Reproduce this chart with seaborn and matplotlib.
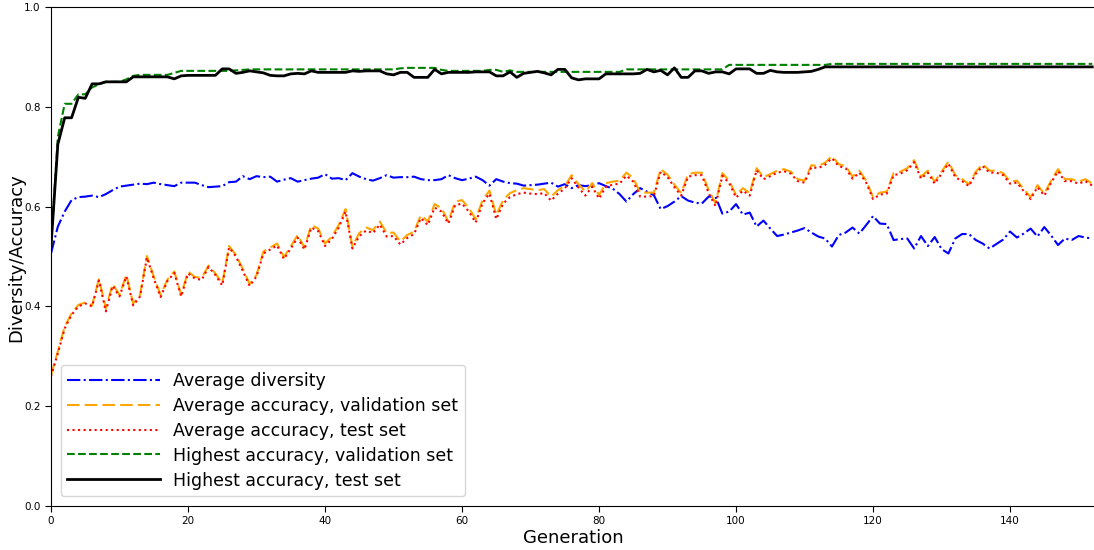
import numpy as np
import pandas as pd
import matplotlib
matplotlib.use("Agg")
import matplotlib.pyplot as plt
import seaborn as sns

# Per-generation statistics of the evolutionary run (generation 0..152)
avg_diversity = [
    0.506, 0.560, 0.590, 0.613, 0.619, 0.620, 0.622, 0.619, 0.625, 0.633,
    0.640, 0.642, 0.644, 0.646, 0.645, 0.648, 0.645, 0.643, 0.641, 0.648,
    0.648, 0.648, 0.643, 0.639, 0.640, 0.641, 0.649, 0.650, 0.661, 0.655,
    0.661, 0.659, 0.660, 0.650, 0.654, 0.657, 0.650, 0.653, 0.656, 0.658,
    0.665, 0.656, 0.657, 0.653, 0.667, 0.660, 0.655, 0.652, 0.657, 0.663,
    0.658, 0.659, 0.659, 0.660, 0.655, 0.653, 0.653, 0.655, 0.663, 0.657,
    0.653, 0.656, 0.660, 0.653, 0.642, 0.655, 0.650, 0.647, 0.646, 0.642,
    0.643, 0.644, 0.646, 0.648, 0.640, 0.645, 0.637, 0.643, 0.641, 0.643,
    0.647, 0.641, 0.636, 0.625, 0.610, 0.625, 0.637, 0.630, 0.623, 0.595,
    0.601, 0.610, 0.621, 0.612, 0.608, 0.606, 0.620, 0.620, 0.586, 0.590,
    0.605, 0.584, 0.588, 0.560, 0.572, 0.556, 0.541, 0.544, 0.548, 0.552,
    0.557, 0.548, 0.540, 0.536, 0.520, 0.543, 0.548, 0.558, 0.546, 0.563,
    0.581, 0.566, 0.565, 0.533, 0.535, 0.536, 0.516, 0.541, 0.521, 0.539,
    0.515, 0.506, 0.536, 0.545, 0.545, 0.533, 0.526, 0.516, 0.525, 0.534,
    0.550, 0.538, 0.546, 0.556, 0.540, 0.559, 0.542, 0.523, 0.536, 0.533,
    0.541, 0.538, 0.536,
]

avg_acc_val = [
    0.262, 0.310, 0.360, 0.386, 0.403, 0.408, 0.402, 0.456, 0.396, 0.445,
    0.423, 0.463, 0.406, 0.423, 0.501, 0.460, 0.423, 0.454, 0.470, 0.423,
    0.470, 0.459, 0.457, 0.482, 0.466, 0.446, 0.521, 0.503, 0.475, 0.445,
    0.463, 0.510, 0.518, 0.526, 0.499, 0.520, 0.543, 0.518, 0.563, 0.556,
    0.526, 0.540, 0.563, 0.595, 0.520, 0.547, 0.558, 0.553, 0.570, 0.547,
    0.548, 0.530, 0.543, 0.550, 0.583, 0.570, 0.605, 0.597, 0.570, 0.610,
    0.613, 0.597, 0.575, 0.613, 0.632, 0.583, 0.613, 0.627, 0.633, 0.637,
    0.635, 0.633, 0.635, 0.620, 0.633, 0.641, 0.663, 0.645, 0.630, 0.647,
    0.623, 0.647, 0.650, 0.652, 0.668, 0.657, 0.628, 0.628, 0.628, 0.675,
    0.664, 0.644, 0.627, 0.665, 0.668, 0.668, 0.633, 0.607, 0.667, 0.652,
    0.623, 0.637, 0.627, 0.677, 0.659, 0.665, 0.672, 0.675, 0.670, 0.655,
    0.652, 0.683, 0.681, 0.688, 0.701, 0.685, 0.681, 0.660, 0.672, 0.652,
    0.619, 0.628, 0.630, 0.667, 0.670, 0.677, 0.693, 0.660, 0.672, 0.650,
    0.670, 0.690, 0.663, 0.655, 0.645, 0.670, 0.685, 0.672, 0.672, 0.667,
    0.650, 0.652, 0.635, 0.619, 0.643, 0.626, 0.652, 0.675, 0.655, 0.655,
    0.650, 0.655, 0.646,
]

avg_acc_test = [
    0.260, 0.306, 0.356, 0.383, 0.400, 0.406, 0.400, 0.452, 0.390, 0.441,
    0.420, 0.460, 0.402, 0.420, 0.498, 0.456, 0.419, 0.451, 0.467, 0.420,
    0.466, 0.456, 0.453, 0.479, 0.463, 0.442, 0.518, 0.500, 0.471, 0.441,
    0.460, 0.506, 0.514, 0.522, 0.495, 0.516, 0.538, 0.514, 0.558, 0.551,
    0.521, 0.535, 0.558, 0.590, 0.516, 0.541, 0.552, 0.547, 0.564, 0.540,
    0.541, 0.524, 0.537, 0.545, 0.577, 0.563, 0.598, 0.590, 0.566, 0.603,
    0.606, 0.590, 0.568, 0.607, 0.626, 0.575, 0.606, 0.619, 0.625, 0.628,
    0.626, 0.625, 0.627, 0.612, 0.626, 0.636, 0.657, 0.638, 0.622, 0.640,
    0.616, 0.640, 0.644, 0.646, 0.662, 0.650, 0.620, 0.620, 0.621, 0.670,
    0.659, 0.639, 0.622, 0.660, 0.663, 0.663, 0.627, 0.601, 0.662, 0.647,
    0.618, 0.632, 0.622, 0.673, 0.655, 0.661, 0.668, 0.671, 0.666, 0.651,
    0.648, 0.679, 0.677, 0.684, 0.697, 0.681, 0.677, 0.656, 0.668, 0.648,
    0.615, 0.624, 0.626, 0.663, 0.666, 0.673, 0.689, 0.656, 0.668, 0.646,
    0.666, 0.686, 0.659, 0.651, 0.641, 0.666, 0.681, 0.668, 0.668, 0.663,
    0.646, 0.648, 0.631, 0.615, 0.639, 0.622, 0.648, 0.671, 0.651, 0.651,
    0.646, 0.651, 0.642,
]

best_acc_val = [
    0.520, 0.740, 0.806, 0.806, 0.825, 0.825, 0.839, 0.845, 0.850, 0.850,
    0.850, 0.855, 0.862, 0.864, 0.864, 0.864, 0.864, 0.864, 0.868, 0.872,
    0.872, 0.872, 0.872, 0.872, 0.872, 0.872, 0.872, 0.873, 0.874, 0.875,
    0.875, 0.875, 0.875, 0.875, 0.875, 0.875, 0.875, 0.875, 0.875, 0.875,
    0.875, 0.875, 0.875, 0.875, 0.875, 0.875, 0.875, 0.875, 0.875, 0.875,
    0.875, 0.877, 0.878, 0.878, 0.878, 0.878, 0.878, 0.874, 0.872, 0.872,
    0.872, 0.872, 0.872, 0.872, 0.874, 0.874, 0.870, 0.873, 0.870, 0.870,
    0.870, 0.870, 0.870, 0.870, 0.870, 0.870, 0.870, 0.870, 0.870, 0.870,
    0.870, 0.870, 0.870, 0.870, 0.875, 0.875, 0.875, 0.875, 0.875, 0.875,
    0.875, 0.875, 0.875, 0.875, 0.875, 0.875, 0.875, 0.875, 0.875, 0.884,
    0.884, 0.884, 0.884, 0.884, 0.884, 0.884, 0.884, 0.884, 0.884, 0.884,
    0.884, 0.884, 0.884, 0.884, 0.886, 0.886, 0.886, 0.886, 0.886, 0.886,
    0.886, 0.886, 0.886, 0.886, 0.886, 0.886, 0.886, 0.886, 0.886, 0.886,
    0.886, 0.886, 0.886, 0.886, 0.886, 0.886, 0.886, 0.886, 0.886, 0.886,
    0.886, 0.886, 0.886, 0.886, 0.886, 0.886, 0.886, 0.886, 0.886, 0.886,
    0.886, 0.886, 0.886,
]

best_acc_test = [
    0.520, 0.725, 0.778, 0.778, 0.819, 0.817, 0.846, 0.846, 0.850, 0.850,
    0.850, 0.850, 0.860, 0.860, 0.860, 0.860, 0.860, 0.860, 0.856, 0.862,
    0.863, 0.863, 0.863, 0.863, 0.863, 0.876, 0.876, 0.867, 0.869, 0.872,
    0.870, 0.868, 0.863, 0.862, 0.862, 0.866, 0.867, 0.866, 0.872, 0.869,
    0.869, 0.869, 0.869, 0.869, 0.872, 0.871, 0.872, 0.872, 0.872, 0.866,
    0.864, 0.869, 0.869, 0.859, 0.859, 0.859, 0.875, 0.866, 0.869, 0.869,
    0.869, 0.869, 0.870, 0.870, 0.870, 0.862, 0.862, 0.870, 0.859, 0.867,
    0.869, 0.871, 0.868, 0.864, 0.875, 0.875, 0.858, 0.854, 0.856, 0.856,
    0.856, 0.866, 0.866, 0.866, 0.866, 0.866, 0.867, 0.875, 0.870, 0.873,
    0.864, 0.878, 0.859, 0.859, 0.872, 0.872, 0.867, 0.870, 0.870, 0.866,
    0.876, 0.876, 0.876, 0.867, 0.867, 0.873, 0.870, 0.869, 0.869, 0.869,
    0.870, 0.871, 0.875, 0.880, 0.880, 0.880, 0.880, 0.880, 0.880, 0.880,
    0.880, 0.880, 0.880, 0.880, 0.880, 0.880, 0.880, 0.880, 0.880, 0.880,
    0.880, 0.880, 0.880, 0.880, 0.880, 0.880, 0.880, 0.880, 0.880, 0.880,
    0.880, 0.880, 0.880, 0.880, 0.880, 0.880, 0.880, 0.880, 0.880, 0.880,
    0.880, 0.880, 0.880,
]

generations = np.arange(len(avg_diversity))

series = [
    ("Average diversity", avg_diversity, "blue", "-.", 1.5),
    ("Average accuracy, validation set", avg_acc_val, "orange", (0, (6, 2.5)), 1.5),
    ("Average accuracy, test set", avg_acc_test, "red", ":", 1.5),
    ("Highest accuracy, validation set", best_acc_val, "green", "--", 1.5),
    ("Highest accuracy, test set", best_acc_test, "black", "-", 2.0),
]

W, H, DPI = 1094, 550, 100
fig = plt.figure(figsize=(W / DPI, H / DPI), dpi=DPI)
left, bottom, top, right = 51 / W, (H - 506) / H, (H - 7) / H, 1095 / W
ax = fig.add_axes([left, bottom, right - left, top - bottom])

for label, values, color, ls, lw in series:
    df = pd.DataFrame({"Generation": generations, "value": values})
    sns.lineplot(data=df, x="Generation", y="value", ax=ax, color=color,
                 linestyle=ls, linewidth=lw, label=label)

ax.set_xlim(0, 152.4)
ax.set_ylim(0, 1.0)
ax.set_xticks(np.arange(0, 141, 20))
ax.set_yticks(np.arange(0, 1.01, 0.2))
ax.tick_params(labelsize=7.5, length=4)
ax.set_xlabel("Generation", fontsize=13, labelpad=2)
ax.set_ylabel("Diversity/Accuracy", fontsize=13)
ax.yaxis.set_label_coords(-0.0249, 0.498)

leg = ax.legend(loc="lower left", fontsize=12.5, handlelength=5.3,
                borderaxespad=0.55, labelspacing=0.4)

fig.savefig("out.png", dpi=DPI)
